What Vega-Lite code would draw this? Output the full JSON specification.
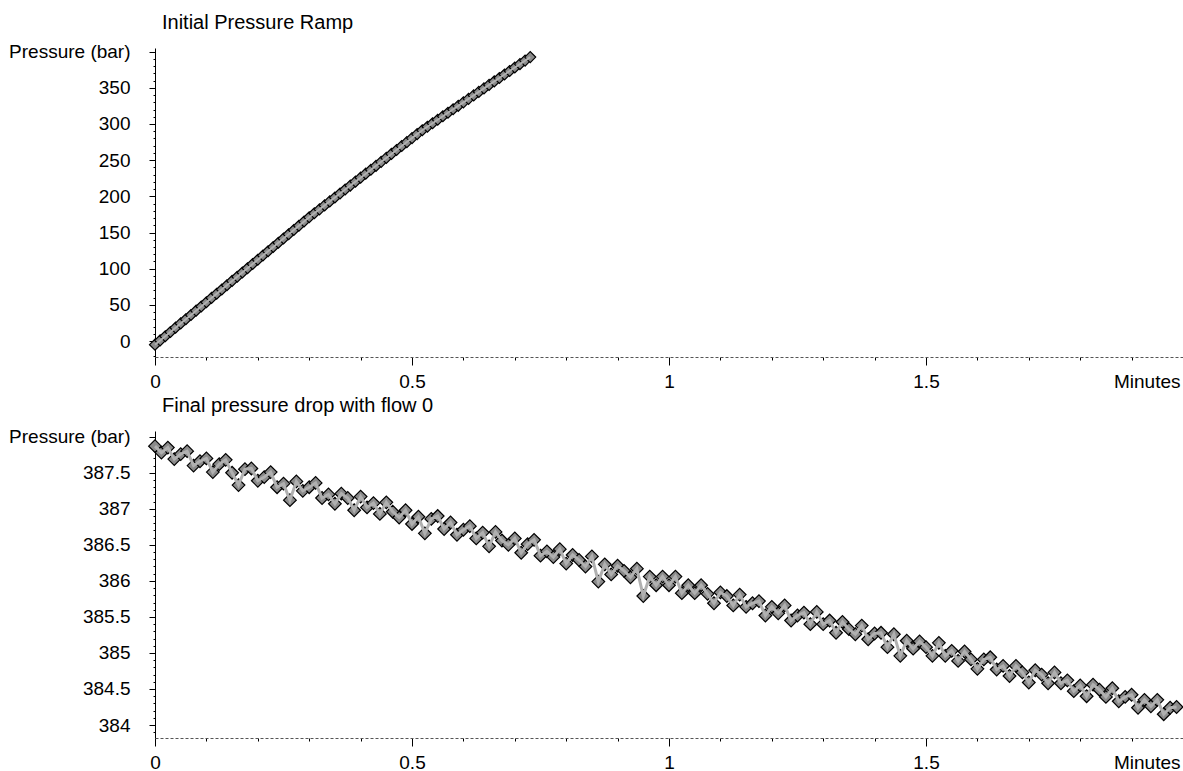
{
  "$schema": "https://vega.github.io/schema/vega-lite/v6.json",
  "background": "white",
  "padding": {"left": 8, "top": 12, "right": 0, "bottom": 0},
  "spacing": 4,
  "config": {
    "view": {"stroke": null},
    "font": "Liberation Sans",
    "title": {"font": "Liberation Sans", "fontSize": 20, "fontWeight": "normal", "color": "black", "anchor": "start", "frame": "group", "baseline": "alphabetic", "offset": 10, "dx": 7},
    "axis": {"labelFont": "Liberation Sans", "labelFontSize": 19, "labelColor": "black", "tickColor": "black", "grid": false, "title": null, "labelOverlap": false, "labelFlush": false, "labelBound": false}
  },
  "datasets": {
    "ramp": [
      {"t":0,"p":-5},{"t":0.01,"p":0.9},{"t":0.02,"p":6.7},{"t":0.03,"p":12.6},{"t":0.04,"p":18.5},{"t":0.05,"p":24.4},{"t":0.06,"p":30.2},{"t":0.07,"p":36.1},{"t":0.08,"p":42.0},{"t":0.09,"p":47.8},
      {"t":0.10,"p":53.7},{"t":0.11,"p":59.6},{"t":0.12,"p":65.4},{"t":0.13,"p":71.3},{"t":0.14,"p":77.2},{"t":0.15,"p":83.1},{"t":0.16,"p":88.9},{"t":0.17,"p":94.8},{"t":0.18,"p":100.7},{"t":0.19,"p":106.5},
      {"t":0.20,"p":112.4},{"t":0.21,"p":118.3},{"t":0.22,"p":124.1},{"t":0.23,"p":130.0},{"t":0.24,"p":135.9},{"t":0.25,"p":141.8},{"t":0.26,"p":147.6},{"t":0.27,"p":153.5},{"t":0.28,"p":159.4},{"t":0.29,"p":165.2},
      {"t":0.30,"p":171.1},{"t":0.31,"p":176.6},{"t":0.32,"p":182.0},{"t":0.33,"p":187.5},{"t":0.34,"p":193.0},{"t":0.35,"p":198.4},{"t":0.36,"p":203.9},{"t":0.37,"p":209.4},{"t":0.38,"p":214.9},{"t":0.39,"p":220.3},
      {"t":0.40,"p":225.8},{"t":0.41,"p":231.3},{"t":0.42,"p":236.7},{"t":0.43,"p":242.2},{"t":0.44,"p":247.7},{"t":0.45,"p":253.1},{"t":0.46,"p":258.6},{"t":0.47,"p":264.1},{"t":0.48,"p":269.6},{"t":0.49,"p":275.0},
      {"t":0.50,"p":280.5},{"t":0.51,"p":286.0},{"t":0.52,"p":291.4},{"t":0.53,"p":296.2},{"t":0.54,"p":301.0},{"t":0.55,"p":305.9},{"t":0.56,"p":310.7},{"t":0.57,"p":315.5},{"t":0.58,"p":320.3},{"t":0.59,"p":325.1},
      {"t":0.60,"p":329.9},{"t":0.61,"p":334.7},{"t":0.62,"p":339.5},{"t":0.63,"p":344.3},{"t":0.64,"p":349.2},{"t":0.65,"p":354.0},{"t":0.66,"p":358.8},{"t":0.67,"p":363.6},{"t":0.68,"p":368.4},{"t":0.69,"p":373.2},
      {"t":0.70,"p":378.0},{"t":0.71,"p":382.8},{"t":0.72,"p":387.6},{"t":0.73,"p":392.4}
    ],
    "drop": [
      {"t":0,"p":387.87},{"t":0.0125,"p":387.78},{"t":0.025,"p":387.85},{"t":0.0375,"p":387.69},{"t":0.05,"p":387.76},{"t":0.0625,"p":387.80},{"t":0.075,"p":387.60},{"t":0.0875,"p":387.66},{"t":0.1,"p":387.70},{"t":0.1125,"p":387.51},
      {"t":0.125,"p":387.62},{"t":0.1375,"p":387.68},{"t":0.15,"p":387.50},{"t":0.1625,"p":387.33},{"t":0.175,"p":387.55},{"t":0.1875,"p":387.56},{"t":0.2,"p":387.39},{"t":0.2125,"p":387.44},{"t":0.225,"p":387.51},{"t":0.2375,"p":387.30},
      {"t":0.25,"p":387.35},{"t":0.2625,"p":387.12},{"t":0.275,"p":387.38},{"t":0.2875,"p":387.25},{"t":0.3,"p":387.30},{"t":0.3125,"p":387.36},{"t":0.325,"p":387.15},{"t":0.3375,"p":387.20},{"t":0.35,"p":387.07},{"t":0.3625,"p":387.21},
      {"t":0.375,"p":387.15},{"t":0.3875,"p":386.98},{"t":0.4,"p":387.17},{"t":0.4125,"p":387.02},{"t":0.425,"p":387.08},{"t":0.4375,"p":386.93},{"t":0.45,"p":387.09},{"t":0.4625,"p":386.96},{"t":0.475,"p":386.88},{"t":0.4875,"p":386.98},
      {"t":0.5,"p":386.79},{"t":0.5125,"p":386.89},{"t":0.525,"p":386.66},{"t":0.5375,"p":386.86},{"t":0.55,"p":386.90},{"t":0.5625,"p":386.72},{"t":0.575,"p":386.81},{"t":0.5875,"p":386.64},{"t":0.6,"p":386.71},{"t":0.6125,"p":386.76},
      {"t":0.625,"p":386.59},{"t":0.6375,"p":386.67},{"t":0.65,"p":386.48},{"t":0.6625,"p":386.68},{"t":0.675,"p":386.56},{"t":0.6875,"p":386.50},{"t":0.7,"p":386.59},{"t":0.7125,"p":386.39},{"t":0.725,"p":386.51},{"t":0.7375,"p":386.57},
      {"t":0.75,"p":386.35},{"t":0.7625,"p":386.41},{"t":0.775,"p":386.33},{"t":0.7875,"p":386.44},{"t":0.8,"p":386.24},{"t":0.8125,"p":386.36},{"t":0.825,"p":386.29},{"t":0.8375,"p":386.20},{"t":0.85,"p":386.34},{"t":0.8625,"p":385.99},
      {"t":0.875,"p":386.23},{"t":0.8875,"p":386.09},{"t":0.9,"p":386.21},{"t":0.9125,"p":386.14},{"t":0.925,"p":386.05},{"t":0.9375,"p":386.17},{"t":0.95,"p":385.79},{"t":0.9625,"p":386.06},{"t":0.975,"p":385.94},{"t":0.9875,"p":386.06},
      {"t":1.0,"p":385.94},{"t":1.0125,"p":386.06},{"t":1.025,"p":385.83},{"t":1.0375,"p":385.94},{"t":1.05,"p":385.83},{"t":1.0625,"p":385.94},{"t":1.075,"p":385.82},{"t":1.0875,"p":385.69},{"t":1.1,"p":385.84},{"t":1.1125,"p":385.79},
      {"t":1.125,"p":385.66},{"t":1.1375,"p":385.81},{"t":1.15,"p":385.64},{"t":1.1625,"p":385.69},{"t":1.175,"p":385.72},{"t":1.1875,"p":385.52},{"t":1.2,"p":385.64},{"t":1.2125,"p":385.55},{"t":1.225,"p":385.66},{"t":1.2375,"p":385.45},
      {"t":1.25,"p":385.52},{"t":1.2625,"p":385.56},{"t":1.275,"p":385.40},{"t":1.2875,"p":385.57},{"t":1.3,"p":385.40},{"t":1.3125,"p":385.45},{"t":1.325,"p":385.28},{"t":1.3375,"p":385.43},{"t":1.35,"p":385.33},{"t":1.3625,"p":385.26},
      {"t":1.375,"p":385.38},{"t":1.3875,"p":385.19},{"t":1.4,"p":385.27},{"t":1.4125,"p":385.28},{"t":1.425,"p":385.08},{"t":1.4375,"p":385.26},{"t":1.45,"p":384.96},{"t":1.4625,"p":385.17},{"t":1.475,"p":385.06},{"t":1.4875,"p":385.16},
      {"t":1.5,"p":385.08},{"t":1.5125,"p":384.96},{"t":1.525,"p":385.14},{"t":1.5375,"p":384.96},{"t":1.55,"p":385.03},{"t":1.5625,"p":384.89},{"t":1.575,"p":385.02},{"t":1.5875,"p":384.91},{"t":1.6,"p":384.78},{"t":1.6125,"p":384.91},
      {"t":1.625,"p":384.94},{"t":1.6375,"p":384.77},{"t":1.65,"p":384.82},{"t":1.6625,"p":384.68},{"t":1.675,"p":384.82},{"t":1.6875,"p":384.73},{"t":1.7,"p":384.59},{"t":1.7125,"p":384.76},{"t":1.725,"p":384.70},{"t":1.7375,"p":384.58},
      {"t":1.75,"p":384.73},{"t":1.7625,"p":384.58},{"t":1.775,"p":384.62},{"t":1.7875,"p":384.47},{"t":1.8,"p":384.55},{"t":1.8125,"p":384.40},{"t":1.825,"p":384.56},{"t":1.8375,"p":384.49},{"t":1.85,"p":384.39},{"t":1.8625,"p":384.51},
      {"t":1.875,"p":384.33},{"t":1.8875,"p":384.39},{"t":1.9,"p":384.42},{"t":1.9125,"p":384.24},{"t":1.925,"p":384.35},{"t":1.9375,"p":384.26},{"t":1.95,"p":384.35},{"t":1.9625,"p":384.15},{"t":1.975,"p":384.24},{"t":1.9875,"p":384.25}
    ]
  },
  "vconcat": [
    {
      "title": {"text": "Initial Pressure Ramp", "offset": 10},
      "width": 1028,
      "height": 309,
      "data": {"name": "ramp"},
      "encoding": {
        "x": {"field": "t", "type": "quantitative", "scale": {"domain": [0, 2], "nice": false, "zero": false},
          "axis": {"values": [0,0.1,0.2,0.3,0.4,0.5,0.6,0.7,0.8,0.9,1,1.1,1.2,1.3,1.4,1.5,1.6,1.7,1.8,1.9,2], "format": "~g",
            "labelExpr": "datum.value == 2 ? 'Minutes' : (abs(datum.value*2 - round(datum.value*2)) < 0.001 ? datum.label : '')",
            "labelAlign": {"condition": {"test": "datum.value == 2", "value": "right"}, "value": "center"},
            "labelOffset": {"condition": {"test": "datum.value == 2", "value": -3}, "value": 0},
            "tickSize": {"condition": {"test": "abs(datum.value*2 - round(datum.value*2)) < 0.001", "value": 8}, "value": 3},
            "labelPadding": 7, "domainColor": "#555", "domainDash": [3, 2], "domainWidth": 1}},
        "y": {"field": "p", "type": "quantitative", "scale": {"domain": [-22, 405], "nice": false, "zero": false},
          "axis": {"values": [-20,-10,0,10,20,30,40,50,60,70,80,90,100,110,120,130,140,150,160,170,180,190,200,210,220,230,240,250,260,270,280,290,300,310,320,330,340,350,360,370,380,390,400],
            "labelExpr": "datum.value == 400 ? 'Pressure (bar)' : (datum.value >= 0 && datum.value % 50 == 0 ? datum.label : '')",
            "tickSize": {"condition": {"test": "datum.value % 50 == 0", "value": 6}, "value": 2},
            "labelPadding": 19, "domainColor": "black", "domainWidth": 1}}
      },
      "layer": [
        {"mark": {"type": "point", "shape": "diamond", "size": 120, "filled": true, "fill": "#8a8a8a", "stroke": "black", "strokeWidth": 1.2, "opacity": 1}},
        {"mark": {"type": "line", "color": "#b0b0b0", "strokeWidth": 2}}
      ]
    },
    {
      "title": {"text": "Final pressure drop with flow 0", "offset": 12},
      "width": 1028,
      "height": 307,
      "data": {"name": "drop"},
      "encoding": {
        "x": {"field": "t", "type": "quantitative", "scale": {"domain": [0, 2], "nice": false, "zero": false},
          "axis": {"values": [0,0.1,0.2,0.3,0.4,0.5,0.6,0.7,0.8,0.9,1,1.1,1.2,1.3,1.4,1.5,1.6,1.7,1.8,1.9,2], "format": "~g",
            "labelExpr": "datum.value == 2 ? 'Minutes' : (abs(datum.value*2 - round(datum.value*2)) < 0.001 ? datum.label : '')",
            "labelAlign": {"condition": {"test": "datum.value == 2", "value": "right"}, "value": "center"},
            "labelOffset": {"condition": {"test": "datum.value == 2", "value": -3}, "value": 0},
            "tickSize": {"condition": {"test": "abs(datum.value*2 - round(datum.value*2)) < 0.001", "value": 8}, "value": 3},
            "labelPadding": 7, "domainColor": "#555", "domainDash": [3, 2], "domainWidth": 1}},
        "y": {"field": "p", "type": "quantitative", "scale": {"domain": [383.82, 388.08], "nice": false, "zero": false},
          "axis": {"values": [383.9,384,384.1,384.2,384.3,384.4,384.5,384.6,384.7,384.8,384.9,385,385.1,385.2,385.3,385.4,385.5,385.6,385.7,385.8,385.9,386,386.1,386.2,386.3,386.4,386.5,386.6,386.7,386.8,386.9,387,387.1,387.2,387.3,387.4,387.5,387.6,387.7,387.8,387.9,388],
            "format": "~g",
            "labelExpr": "datum.value == 388 ? 'Pressure (bar)' : (abs(datum.value*2 - round(datum.value*2)) < 0.001 ? datum.label : '')",
            "tickSize": {"condition": {"test": "abs(datum.value*2 - round(datum.value*2)) < 0.001", "value": 6}, "value": 2},
            "labelPadding": 19, "domainColor": "black", "domainWidth": 1}}
      },
      "layer": [
        {"mark": {"type": "point", "shape": "diamond", "size": 160, "filled": true, "fill": "#8a8a8a", "stroke": "black", "strokeWidth": 1.2, "opacity": 1}},
        {"mark": {"type": "line", "color": "#b0b0b0", "strokeWidth": 3}}
      ]
    }
  ]
}
